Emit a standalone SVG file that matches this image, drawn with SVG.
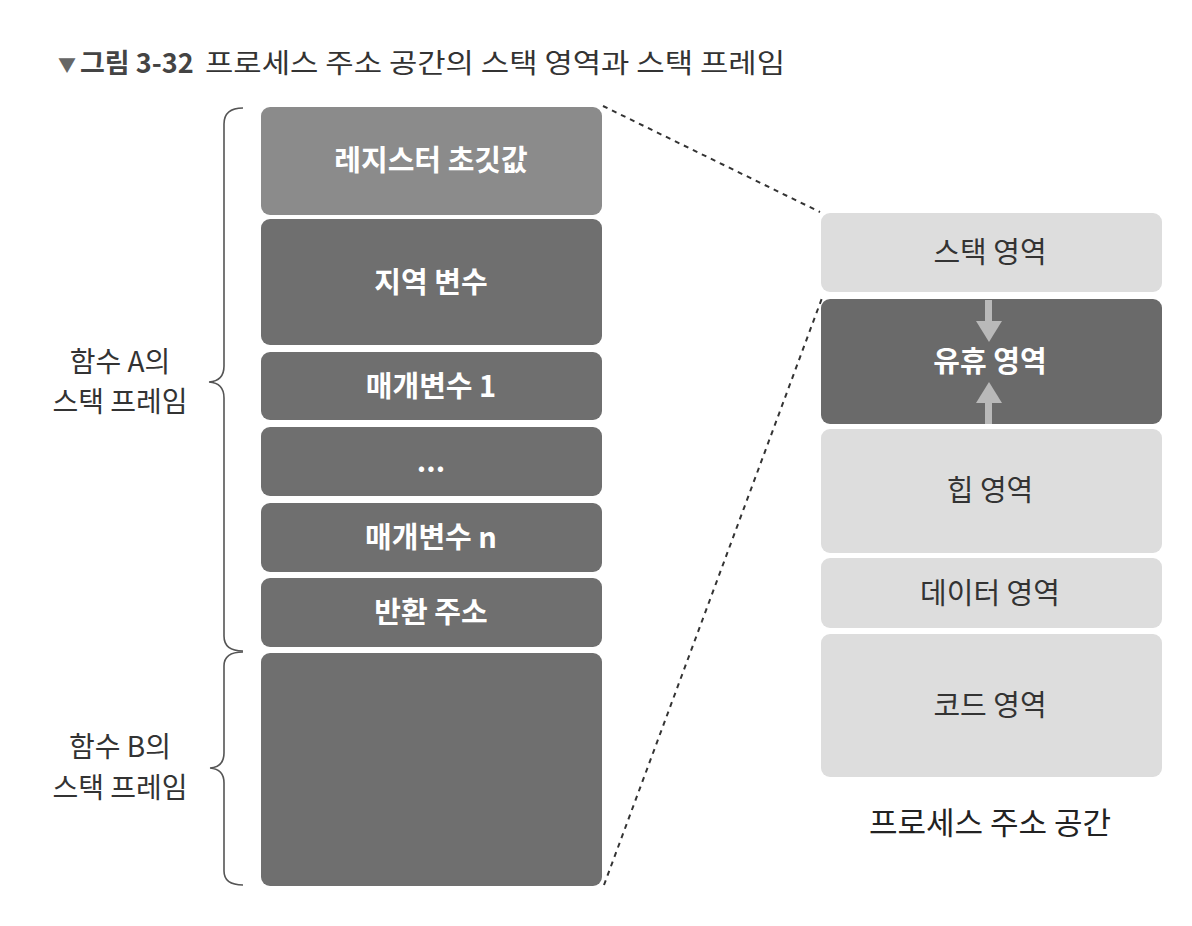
<svg xmlns="http://www.w3.org/2000/svg" width="1192" height="926" viewBox="0 0 1192 926">
<style>
.t{font-family:"Noto Sans CJK KR","Noto Sans",sans-serif;}
.lb{font-size:29px;fill:#ffffff;font-weight:bold;text-anchor:middle;}
.rb{font-size:29px;fill:#333333;text-anchor:middle;}
.sd{fill:#6f6f6f;}
.sl{fill:#8b8b8b;}
.pl{fill:#dddddd;}
.pd{fill:#6a6a6a;}
.brace{fill:none;stroke:#555555;stroke-width:1.6;}
.dash{fill:none;stroke:#333333;stroke-width:2;stroke-dasharray:5 5;}
.lab{font-size:28px;fill:#333333;text-anchor:middle;}
</style>
<rect width="1192" height="926" fill="#ffffff"/>
<g id="title">
<text class="t" x="58" y="72" font-size="18" fill="#666666">▼</text>
<text class="t" x="80" y="73" font-size="27" font-weight="bold" fill="#444444">그림 3-32</text>
<text class="t" x="205" y="73" font-size="27" fill="#333333" textLength="580" lengthAdjust="spacingAndGlyphs">프로세스 주소 공간의 스택 영역과 스택 프레임</text>
</g>
<g id="connectors">
<line class="dash" x1="603" y1="106" x2="820" y2="212"/>
<line class="dash" x1="604" y1="885" x2="822" y2="298"/>
</g>
<g id="braceA">
<path class="brace" d="M243,108 Q224,108 224,124 L224,366 Q224,381 209,382 Q224,383 224,398 L224,636 Q224,651 243,651"/>
</g>
<g id="braceB">
<path class="brace" d="M243,652 Q224,652 224,666 L224,753 Q224,767 210,768 Q224,769 224,783 L224,871 Q224,885 243,885"/>
</g>
<g id="labelA">
<text class="t lab" x="120" y="372">함수 A의</text>
<text class="t lab" x="120" y="412">스택 프레임</text>
</g>
<g id="labelB">
<text class="t lab" x="120" y="757">함수 B의</text>
<text class="t lab" x="120" y="798">스택 프레임</text>
</g>
<g id="register">
<rect class="sl" x="261" y="107" width="341" height="108" rx="9"/>
<text class="t lb" x="431" y="171">레지스터 초깃값</text>
</g>
<g id="local">
<rect class="sd" x="261" y="219" width="341" height="126" rx="9"/>
<text class="t lb" x="431" y="293">지역 변수</text>
</g>
<g id="param1">
<rect class="sd" x="261" y="352" width="341" height="68" rx="9"/>
<text class="t lb" x="431" y="397">매개변수 1</text>
</g>
<g id="dots">
<rect class="sd" x="261" y="427" width="341" height="69" rx="9"/>
<text class="t lb" x="431" y="472">...</text>
</g>
<g id="paramn">
<rect class="sd" x="261" y="503" width="341" height="69" rx="9"/>
<text class="t lb" x="431" y="548">매개변수 n</text>
</g>
<g id="ret">
<rect class="sd" x="261" y="578" width="341" height="69" rx="9"/>
<text class="t lb" x="431" y="623">반환 주소</text>
</g>
<g id="frameB">
<rect class="sd" x="261" y="653" width="341" height="233" rx="9"/>
</g>
<g id="stack">
<rect class="pl" x="821" y="213" width="341" height="79" rx="9"/>
<text class="t rb" x="990" y="263">스택 영역</text>
</g>
<g id="idle">
<rect class="pd" x="821" y="299" width="341" height="125" rx="9"/>
<rect x="985" y="300" width="7" height="22" fill="#b9b9b9"/>
<polygon points="976,321 1002,321 989,342" fill="#b9b9b9"/>
<rect x="985" y="402" width="7" height="22" fill="#b9b9b9"/>
<polygon points="976,403 1002,403 989,382" fill="#b9b9b9"/>
<text class="t lb" x="990" y="372">유휴 영역</text>
</g>
<g id="heap">
<rect class="pl" x="821" y="429" width="341" height="124" rx="9"/>
<text class="t rb" x="990" y="501">힙 영역</text>
</g>
<g id="data">
<rect class="pl" x="821" y="558" width="341" height="70" rx="9"/>
<text class="t rb" x="990" y="604">데이터 영역</text>
</g>
<g id="code">
<rect class="pl" x="821" y="634" width="341" height="143" rx="9"/>
<text class="t rb" x="990" y="716">코드 영역</text>
</g>
<g id="spaceLabel">
<text class="t" x="990" y="834" font-size="31" fill="#222222" text-anchor="middle">프로세스 주소 공간</text>
</g>
</svg>
